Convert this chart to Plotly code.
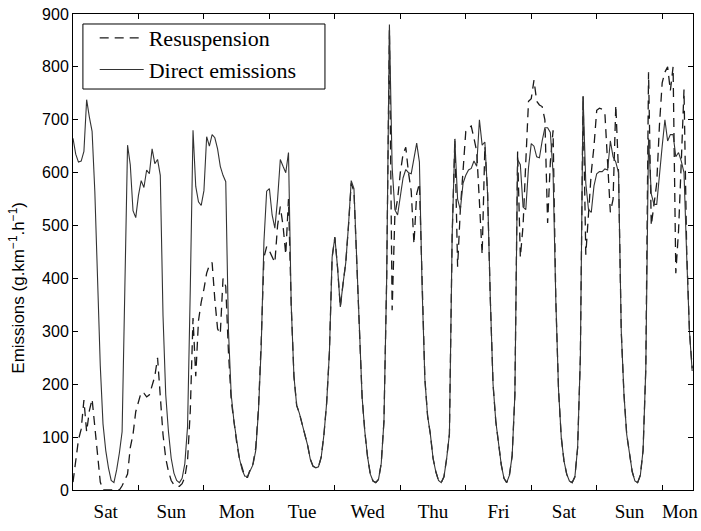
import plotly.graph_objects as go

# Hours from the start of the record (one value per hour)
direct = [
    665, 635, 620, 622, 640, 738, 705, 678, 565, 400, 235, 125, 75, 42, 18, 14, 38, 70, 110, 380, 652, 615, 528, 515,
    557, 585, 572, 605, 598, 645, 617, 625, 595, 330, 180, 110, 60, 32, 18, 14, 22, 50, 120, 380, 680, 574, 545, 538,
    566, 668, 650, 672, 666, 645, 612, 595, 583, 300, 180, 130, 90, 60, 38, 26, 26, 38, 48, 75, 150, 270, 470, 565,
    570, 520, 495, 550, 625, 612, 600, 638, 350, 215, 160, 145, 125, 100, 85, 58, 45, 42, 44, 62, 105, 165, 260, 440,
    478, 420, 346, 390, 430, 500, 585, 570, 440, 296, 175, 110, 62, 30, 17, 14, 20, 50, 130, 400, 880, 610, 530, 520,
    555, 590, 606, 600, 598, 630, 656, 620, 380, 210, 140, 106, 60, 35, 18, 14, 25, 60, 106, 480, 660, 550, 530, 580,
    595, 605, 608, 622, 612, 700, 652, 658, 560, 360, 200, 130, 90, 48, 22, 14, 28, 65, 180, 625, 615, 535, 530, 610,
    655, 650, 630, 628, 660, 685, 685, 676, 600, 360, 190, 100, 55, 30, 17, 14, 25, 80, 250, 745, 580, 530, 525, 575,
    598, 602, 602, 607, 605, 660, 630, 620, 600, 300, 180, 105, 70, 35, 17, 14, 28, 75, 230, 665, 560, 540, 540, 600,
    650, 700, 660, 672, 672, 630, 638, 622, 600, 440, 300, 225,
]

resuspension = [
    15, 60, 95, 115, 170, 110, 150, 172, 120, 60, 15, 0, 0, 0, 0, 0, 0, 0, 8, 18, 30, 80, 105, 148,
    165, 185, 183, 176, 180, 200, 215, 250, 170, 105, 60, 35, 18, 10, 7, 7, 12, 24, 56, 150, 325, 215, 320, 355,
    380, 410, 425, 430, 360, 305, 295, 400, 385, 260, 170, 125, 90, 60, 40, 25, 24, 40, 50, 80, 155, 280, 440, 460,
    452, 440, 430, 500, 536, 500, 445, 550, 350, 215, 160, 145, 125, 100, 85, 58, 45, 42, 44, 62, 105, 165, 260, 440,
    478, 420, 346, 390, 430, 500, 580, 565, 440, 296, 175, 110, 62, 30, 17, 14, 20, 50, 130, 400, 870, 340, 520, 550,
    600, 635, 648, 600, 565, 465, 560, 580, 380, 210, 140, 106, 60, 35, 18, 14, 25, 60, 106, 480, 665, 422, 530, 610,
    678, 685, 688, 665, 640, 545, 445, 650, 560, 360, 200, 130, 90, 48, 22, 14, 28, 65, 180, 640, 440, 500, 620, 735,
    740, 775, 735, 728, 725, 700, 505, 620, 680, 360, 190, 100, 55, 30, 17, 14, 25, 80, 250, 745, 445, 520, 600, 650,
    718, 722, 720, 712, 610, 525, 550, 728, 600, 300, 180, 105, 70, 35, 17, 14, 28, 75, 230, 790, 500, 540, 580, 690,
    770, 790, 800, 755, 800, 410, 490, 620, 757, 450, 300, 230,
]

hours = list(range(len(direct)))

day_labels = ["Sat", "Sun", "Mon", "Tue", "Wed", "Thu", "Fri", "Sat", "Sun", "Mon"]
label_hours = [12, 36, 60, 84, 108, 132, 156, 180, 204, 222.5]
boundary_hours = [24, 48, 72, 96, 120, 144, 168, 192, 216]
x_range = [0, 227.3]
y_ticks = list(range(0, 901, 100))
y_title = "Emissions (g.km<sup>−1</sup>.h<sup>−1</sup>)"

fig = go.Figure()
fig.add_trace(go.Scatter(
    x=hours, y=resuspension, mode="lines", name="Resuspension",
    line=dict(color="#1a1a1a", width=1.3, dash="9px,6px"),
))
fig.add_trace(go.Scatter(
    x=hours, y=direct, mode="lines", name="Direct emissions",
    line=dict(color="#333333", width=1.1),
))
# invisible helper trace for the tick-mark axis
fig.add_trace(go.Scatter(
    x=x_range, y=[0, 0], xaxis="x2", mode="lines",
    line=dict(width=0), showlegend=False, hoverinfo="skip",
))

fig.update_layout(
    width=701, height=531,
    margin=dict(l=73, r=3, t=14, b=41),
    paper_bgcolor="white", plot_bgcolor="white",
    showlegend=True,
    legend=dict(
        x=0.035, y=0.9935, xanchor="left", yanchor="top",
        bgcolor="rgba(0,0,0,0)", borderwidth=0,
        font=dict(family="Liberation Serif", size=22, color="black"),
        itemwidth=44, tracegroupgap=0,
    ),
    # frame around the legend
    shapes=[dict(
        type="rect", xref="paper", yref="paper",
        x0=0.016, x1=0.4064, y0=0.8424, y1=0.979,
        line=dict(color="black", width=1), fillcolor="white", layer="below",
    )],
    xaxis=dict(
        range=x_range, tickmode="array", tickvals=label_hours, ticktext=day_labels,
        ticks="", showline=True, linecolor="black", linewidth=1, mirror=True,
        showgrid=False, zeroline=False, ticklabeloverflow="allow",
        ticklabelstandoff=4,
        tickfont=dict(family="Liberation Serif", size=19, color="black"),
    ),
    xaxis2=dict(
        range=x_range, overlaying="x", anchor="y", side="bottom",
        tickmode="array", tickvals=boundary_hours, ticks="inside", ticklen=5,
        tickcolor="black", showticklabels=False, showline=True, linecolor="black",
        mirror="ticks", showgrid=False, zeroline=False,
    ),
    yaxis=dict(
        range=[0, 900], tickmode="array", tickvals=y_ticks,
        ticks="inside", ticklen=5, tickcolor="black",
        showline=True, linecolor="black", linewidth=1, mirror="ticks",
        showgrid=False, zeroline=False,
        tickfont=dict(family="Liberation Sans", size=16, color="black"),
    ),
    annotations=[dict(
        text=y_title, textangle=-90, showarrow=False,
        xref="paper", yref="paper", x=-0.0896, y=0.426,
        xanchor="center", yanchor="middle",
        font=dict(family="Liberation Sans", size=17, color="black"),
    )],
)

fig.write_html("out.html")
